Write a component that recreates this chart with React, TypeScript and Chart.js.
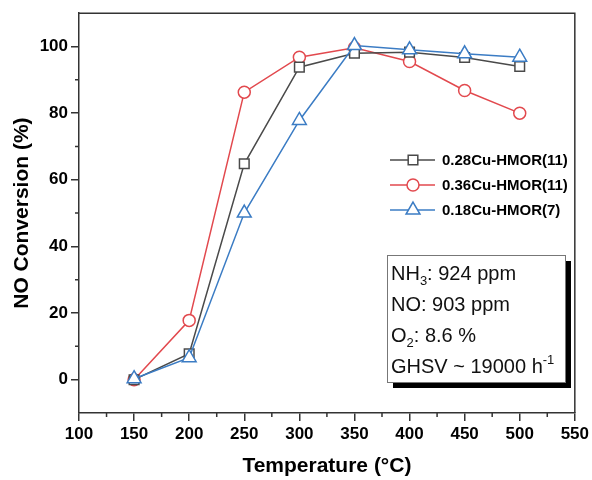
import { useEffect, useRef } from 'react';
import { Chart, registerables } from 'chart.js';

Chart.register(...registerables);

const temperatures = [150, 200, 250, 300, 350, 400, 450, 500];
const cu028 = [0, 7.8, 64.8, 93.8, 98, 98.3, 96.7, 94];
const cu036 = [0, 17.8, 86.3, 96.8, 99.6, 95.5, 86.8, 80];
const cu018 = [0.3, 6.6, 50, 77.8, 100.3, 99, 97.8, 96.8];
const seriesLabels = ['0.28Cu-HMOR(11)', '0.36Cu-HMOR(11)', '0.18Cu-HMOR(7)'];
const seriesColors = ['#4a4a4a', '#e2494e', '#3b7cc4'];
const xTicks = [100, 150, 200, 250, 300, 350, 400, 450, 500, 550];
const xMinorTicks = [125, 175, 225, 275, 325, 375, 425, 475, 525];
const yTicks = [0, 20, 40, 60, 80, 100];
const yMinorTicks = [10, 30, 50, 70, 90];
const xTitle = 'Temperature (°C)';
const yTitle = 'NO Conversion (%)';
// each line: [text, 'n' normal | 'sub' | 'sup']
const conditionLines: [string, string][][] = [
  [['NH', 'n'], ['3', 'sub'], [': 924 ppm', 'n']],
  [['NO: 903 ppm', 'n']],
  [['O', 'n'], ['2', 'sub'], [': 8.6 %', 'n']],
  [['GHSV ~ 19000 h', 'n'], ['-1', 'sup']],
];

const FONT = '"Liberation Sans", Arial, sans-serif';
const FRAME = '#333333';

function drawMarker(ctx: CanvasRenderingContext2D, style: string, x: number, y: number, r: number) {
  ctx.beginPath();
  if (style === 'rect') {
    const s = r * Math.SQRT1_2;
    ctx.rect(x - s, y - s, 2 * s, 2 * s);
  } else if (style === 'circle') {
    ctx.arc(x, y, r, 0, Math.PI * 2);
  } else {
    for (let i = 0; i < 3; i++) {
      const a = (i * 2 * Math.PI) / 3;
      const px = x + Math.sin(a) * r;
      const py = y - Math.cos(a) * r;
      if (i === 0) ctx.moveTo(px, py);
      else ctx.lineTo(px, py);
    }
    ctx.closePath();
  }
  ctx.fillStyle = '#ffffff';
  ctx.fill();
  ctx.stroke();
}

const decorPlugin = {
  id: 'decor',
  afterDraw(chart: any) {
    const ctx: CanvasRenderingContext2D = chart.ctx;
    const { left, right, top, bottom } = chart.chartArea;
    const xs = chart.scales.x;
    const ys = chart.scales.y;
    ctx.save();
    // frame top/right
    ctx.strokeStyle = FRAME;
    ctx.lineWidth = 1.5;
    ctx.beginPath();
    ctx.moveTo(left, top);
    ctx.lineTo(right, top);
    ctx.lineTo(right, bottom);
    ctx.stroke();
    // minor ticks
    ctx.beginPath();
    xMinorTicks.forEach((v) => {
      const px = xs.getPixelForValue(v);
      ctx.moveTo(px, bottom);
      ctx.lineTo(px, bottom + 4);
    });
    yMinorTicks.forEach((v) => {
      const py = ys.getPixelForValue(v);
      ctx.moveTo(left, py);
      ctx.lineTo(left - 4, py);
    });
    ctx.stroke();

    // legend
    const legendRows = [160, 185, 210];
    chart.data.datasets.forEach((ds: any, i: number) => {
      const y = legendRows[ds.legendIndex];
      ctx.strokeStyle = ds.borderColor;
      ctx.lineWidth = 1.5;
      ctx.beginPath();
      ctx.moveTo(390, y);
      ctx.lineTo(435, y);
      ctx.stroke();
      drawMarker(ctx, ds.pointStyle, 413, y, ds.pointRadius);
      ctx.fillStyle = '#000';
      ctx.font = `bold 15px ${FONT}`;
      ctx.textBaseline = 'middle';
      ctx.textAlign = 'left';
      ctx.fillText(ds.label, 442, y + 1);
    });

    // condition box
    const bx = 387, by = 255, bw = 178, bh = 127;
    ctx.fillStyle = '#000';
    ctx.fillRect(bx + 6, by + 6, bw, bh);
    ctx.fillStyle = '#fff';
    ctx.fillRect(bx, by, bw, bh);
    ctx.strokeStyle = '#777';
    ctx.lineWidth = 1;
    ctx.strokeRect(bx + 0.5, by + 0.5, bw, bh);
    ctx.textBaseline = 'alphabetic';
    ctx.fillStyle = '#111';
    conditionLines.forEach((parts, i) => {
      let x = bx + 4;
      const base = 280 + i * 31;
      parts.forEach(([t, kind]) => {
        if (kind === 'n') {
          ctx.font = `20px ${FONT}`;
          ctx.fillText(t, x, base);
        } else if (kind === 'sub') {
          ctx.font = `13px ${FONT}`;
          ctx.fillText(t, x, base + 5);
        } else {
          ctx.font = `13px ${FONT}`;
          ctx.fillText(t, x, base - 9);
        }
        x += ctx.measureText(t).width;
      });
    });
    ctx.restore();
  },
};

export default function App() {
  const ref = useRef<HTMLCanvasElement | null>(null);
  useEffect(() => {
    if (!ref.current) return;
    const series = [cu028, cu036, cu018];
    const styles = ['rect', 'circle', 'triangle'];
    const radii = [6.8, 6, 8];
    const orders = [2, 3, 1];
    const chart = new Chart(ref.current, {
      type: 'line',
      data: {
        datasets: series.map((vals, i) => ({
          label: seriesLabels[i],
          data: temperatures.map((t, j) => ({ x: t, y: vals[j] })),
          borderColor: seriesColors[i],
          backgroundColor: '#ffffff',
          pointBackgroundColor: '#ffffff',
          pointBorderColor: seriesColors[i],
          pointStyle: styles[i],
          pointRadius: radii[i],
          pointBorderWidth: 1.5,
          borderWidth: 1.5,
          tension: 0,
          order: orders[i],
          legendIndex: i,
        })) as any,
      },
      options: {
        responsive: false,
        animation: false,
        layout: { padding: { top: 13, right: 16, left: 0, bottom: 0 } },
        plugins: { legend: { display: false }, tooltip: { enabled: false } },
        scales: {
          x: {
            type: 'linear',
            min: 100,
            max: 550,
            afterBuildTicks: (s: any) => {
              s.ticks = xTicks.map((v) => ({ value: v }));
            },
            afterFit: (s: any) => {
              s.height = 67;
            },
            ticks: {
              color: '#000',
              font: { family: FONT, size: 17, weight: 'bold' },
              padding: 3,
              maxRotation: 0,
              autoSkip: false,
            },
            grid: { drawOnChartArea: false, drawTicks: true, tickLength: 8, color: FRAME, lineWidth: 1.5 },
            border: { display: true, color: FRAME, width: 1.5 },
            title: {
              display: true,
              text: xTitle,
              color: '#000',
              font: { family: FONT, size: 21, weight: 'bold' },
              padding: { top: 0, bottom: 1 },
            },
          },
          y: {
            type: 'linear',
            min: -10,
            max: 110,
            afterBuildTicks: (s: any) => {
              s.ticks = yTicks.map((v) => ({ value: v }));
            },
            afterFit: (s: any) => {
              s.width = 79;
            },
            ticks: {
              color: '#000',
              font: { family: FONT, size: 17, weight: 'bold' },
              padding: 3,
              autoSkip: false,
            },
            grid: { drawOnChartArea: false, drawTicks: true, tickLength: 8, color: FRAME, lineWidth: 1.5 },
            border: { display: true, color: FRAME, width: 1.5 },
            title: {
              display: true,
              text: yTitle,
              color: '#000',
              font: { family: FONT, size: 21, weight: 'bold' },
              padding: { top: 10, bottom: 0 },
            },
          },
        },
      } as any,
      plugins: [decorPlugin],
    });
    return () => chart.destroy();
  }, []);
  return (
    <div style={{ position: 'absolute', left: 0, top: 0, width: 592, height: 480, background: '#fff' }}>
      <canvas ref={ref} width={592} height={480} style={{ width: 592, height: 480, display: 'block' }} />
    </div>
  );
}
